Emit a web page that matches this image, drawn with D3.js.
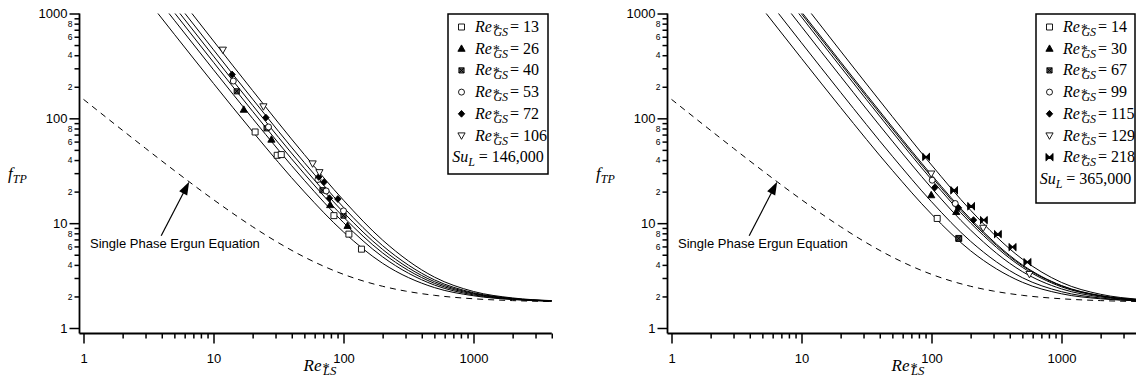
<!DOCTYPE html>
<meta charset="utf-8">
<script src="https://d3js.org/d3.v7.min.js"></script>
<style>
  body { margin: 0; background: #fff; }
  svg text { font-family: "Liberation Sans", Arial, sans-serif; fill: #000; }
  svg text.serif { font-family: "Liberation Serif", "Times New Roman", serif; }
</style>
<div id="my_dataviz"></div>
<script>

  // Re*_LS values where the model curves were read
  var reGrid = [2, 3, 5, 10, 20, 50, 100, 200, 500, 1000, 2000, 4000];

  // single phase Ergun curve (dashed)
  var ergunRe = [1, 2, 3, 5, 10, 20, 30, 50, 100, 200, 300, 500, 1000, 2000, 4000];
  var ergunF = [151.75, 76.75, 51.75, 31.75, 16.75, 9.25, 6.75, 4.75, 3.25, 2.5, 2.25, 2.05, 1.9, 1.825, 1.7875];

  // model curves, f_TP at each reGrid value (left panel, Su_L = 146,000)
  var leftCurves = [
    [2683, 1414, 633.3, 215.2, 74.7, 19.87, 8.24, 4.14, 2.43, 2.03, 1.866, 1.801],
    [3673, 1931, 861.8, 290.6, 99.6, 25.61, 10.13, 4.77, 2.57, 2.07, 1.882, 1.806],
    [4352, 2286, 1018.6, 342.3, 116.6, 29.56, 11.43, 5.20, 2.67, 2.11, 1.893, 1.810],
    [5002, 2626, 1168.7, 391.8, 133.0, 33.33, 12.67, 5.61, 2.77, 2.14, 1.903, 1.813],
    [5777, 3031, 1347.6, 450.8, 152.4, 37.82, 14.15, 6.10, 2.88, 2.17, 1.915, 1.817],
    [7031, 3686, 1637, 546.3, 183.9, 45.10, 16.55, 6.89, 3.06, 2.23, 1.935, 1.824]
  ];

  // model curves (right panel, Su_L = 365,000)
  var rightCurves = [
    [4758, 2498, 1112.3, 373.2, 126.8, 31.91, 12.20, 5.45, 2.73, 2.12, 1.899, 1.812],
    [6754, 3541, 1573, 525.2, 177.0, 43.49, 16.02, 6.71, 3.02, 2.22, 1.931, 1.822],
    [9704, 5083, 2254, 749.8, 251.0, 60.60, 21.66, 8.58, 3.45, 2.36, 1.978, 1.838],
    [12023, 6295, 2789, 926.3, 309.3, 74.06, 26.10, 10.04, 3.79, 2.47, 2.014, 1.850],
    [12887, 6746, 2989, 992.2, 331.0, 79.07, 27.75, 10.58, 3.92, 2.52, 2.028, 1.854],
    [13478, 7055, 3125, 1037.2, 345.8, 82.50, 28.88, 10.96, 4.00, 2.54, 2.037, 1.858],
    [17149, 8974, 3972, 1316.8, 438.1, 103.8, 35.90, 13.27, 4.54, 2.72, 2.096, 1.877]
  ];

  // measured points [Re*_LS, f_TP]
  var leftGS = ["13", "26", "40", "53", "72", "106"];
  var leftSymbols = ["square", "triUp", "xbox", "circle", "diamond", "triDown"];
  var leftPoints = [
    [[20.9, 74.1], [30.9, 44.4], [33.2, 45.1], [84.4, 11.8], [110, 7.86], [137.5, 5.65]],
    [[17.1, 121], [27.9, 62.7], [79.0, 14.9], [107.4, 9.43]],
    [[15.1, 181], [25.6, 80.3], [68.9, 20.6], [100, 11.8]],
    [[14.2, 227], [26.5, 82.7], [63.6, 26.1], [73.6, 20.3], [100, 13.1]],
    [[13.9, 262], [25.3, 101.6], [64.5, 27.6], [70.7, 24.6], [78.0, 17.3], [90.5, 17.0]],
    [[11.8, 451], [24.2, 130], [57.9, 37.1], [65.3, 30.6]]
  ];

  var rightGS = ["14", "30", "67", "99", "115", "129", "218"];
  var rightSymbols = ["square", "triUp", "xbox", "circle", "diamond", "triDown", "bowtie"];
  var rightPoints = [
    [[110.6, 11.09], [162, 7.15]],
    [[99.5, 18.5], [155, 12.8]],
    [[162, 7.15]],
    [[101.3, 25.7], [152.2, 15.4]],
    [[106, 21.9], [161.3, 14.0], [210.4, 10.7]],
    [[99.5, 29.7], [249.8, 9.02], [567, 3.27]],
    [[91.0, 42.8], [149.5, 20.6], [202, 14.5], [252.5, 10.7], [323.6, 7.86], [420, 5.91], [547, 4.25]]
  ];

  var xMajor = [1, 10, 100, 1000];
  var xMinor = [2, 3, 4, 5, 6, 7, 8, 9, 20, 30, 40, 50, 60, 70, 80, 90,
    200, 300, 400, 500, 600, 700, 800, 900, 2000, 3000, 4000];
  var yMajor = [1, 10, 100, 1000];
  var yMinor = [2, 3, 4, 5, 6, 7, 8, 9, 20, 30, 40, 50, 60, 70, 80, 90,
    200, 300, 400, 500, 600, 700, 800, 900];

  var width = 1136, height = 383;

  var svg = d3.select("#my_dataviz")
    .append("svg")
    .attr("width", width)
    .attr("height", height);

  function symbolPath(type) {
    switch (type) {
      case "square": return "M-3,-3H3V3H-3Z";
      case "triUp": return "M0,-3.8L3.6,2.6L-3.6,2.6Z";
      case "triDown": return "M-3.6,-2.6L3.6,-2.6L0,3.8Z";
      case "circle": return "M3,0A3,3 0 1,1 -3,0A3,3 0 1,1 3,0Z";
      case "diamond": return "M0,-3.4L3.2,0L0,3.4L-3.2,0Z";
      case "xbox": return "M-2.6,-2.6H2.6V2.6H-2.6Z";
      case "bowtie": return "M-3.2,-3L0,0L-3.2,3ZM3.2,-3L0,0L3.2,3Z";
    }
  }

  function drawSymbol(g, type, cx, cy) {
    var filled = ["triUp", "diamond", "bowtie"].indexOf(type) >= 0;
    var p = g.append("path")
      .attr("transform", "translate(" + cx + "," + cy + ")")
      .attr("d", symbolPath(type))
      .attr("fill", filled ? "#000" : "#fff")
      .attr("stroke", "#000")
      .attr("stroke-width", type == "bowtie" ? 1.2 : 0.9);
    if (type == "xbox") {
      p.attr("fill", "#555");
      g.append("path")
        .attr("transform", "translate(" + cx + "," + cy + ")")
        .attr("d", "M-2.6,-2.6L2.6,2.6M2.6,-2.6L-2.6,2.6")
        .attr("stroke", "#000").attr("stroke-width", 1);
    }
    if (type == "bowtie") {
      g.append("path")
        .attr("transform", "translate(" + cx + "," + cy + ")")
        .attr("d", "M-3.2,-3.4V3.4M3.2,-3.4V3.4")
        .attr("stroke", "#000").attr("stroke-width", 1.2);
    }
  }

  // Re* with the star stacked over the subscript, all in one text element
  function reLabel(g, x, y, sub, tail, size) {
    var t = g.append("text").attr("class", "serif")
      .attr("x", x).attr("y", y)
      .style("font-size", size + "px");
    t.append("tspan").style("font-style", "italic").text("Re");
    var star = t.append("tspan")
      .attr("dx", 1).attr("dy", size * 0.1)
      .style("font-size", (size * 0.85) + "px")
      .text("*");
    var sw = star.node().getComputedTextLength();
    var s = t.append("tspan")
      .attr("dx", -sw + 0.5).attr("dy", size * 0.15)
      .style("font-size", (size * 0.75) + "px").style("font-style", "italic")
      .text(sub);
    var gw = s.node().getComputedTextLength();
    if (tail) {
      t.append("tspan")
        .attr("dx", Math.max(0, sw - gw) + 2).attr("dy", -size * 0.25)
        .text(tail);
    }
    return t;
  }

  function drawPanel(ox, id, curves, gsVals, symbols, points, suText, boxW, boxH) {
    var axisX = ox + 79.5, axisY = 333.5;
    var x = d3.scaleLog().domain([1, 4000]).range([ox + 83.5, ox + 83.5 + 130 * Math.log10(4000)]);
    var y = d3.scaleLog().domain([1, 1000]).range([328, 13.5]);

    var g = svg.append("g");

    g.append("clipPath").attr("id", "clip" + id)
      .append("rect")
      .attr("x", axisX).attr("y", y(1000))
      .attr("width", x(4000) - axisX).attr("height", axisY - y(1000));

    var line = d3.line()
      .x(function (d) { return x(d[0]); })
      .y(function (d) { return y(d[1]); })
      .curve(d3.curveMonotoneX);

    var plot = g.append("g").attr("clip-path", "url(#clip" + id + ")");

    // dashed single phase Ergun line
    plot.append("path")
      .datum(ergunRe.map(function (r, i) { return [r, ergunF[i]]; }))
      .attr("d", line)
      .attr("fill", "none")
      .attr("stroke", "#000")
      .attr("stroke-width", 1)
      .attr("stroke-dasharray", "6,5");

    plot.selectAll(".curve")
      .data(curves)
      .enter()
      .append("path")
      .attr("class", "curve")
      .attr("d", function (c) { return line(reGrid.map(function (r, i) { return [r, c[i]]; })); })
      .attr("fill", "none")
      .attr("stroke", "#000")
      .attr("stroke-width", 1);

    points.forEach(function (pts, si) {
      pts.forEach(function (p) { drawSymbol(g, symbols[si], x(p[0]), y(p[1])); });
    });

    // axes
    var yAxisMajor = d3.axisLeft(y).tickValues(yMajor).tickSize(10).tickPadding(2)
      .tickFormat(d3.format("d"));
    var yAxisMinor = d3.axisLeft(y).tickValues(yMinor).tickSize(5).tickPadding(2)
      .tickFormat(function (d) {
        var lead = +String(d)[0];
        return lead % 2 == 0 ? String(lead) : "";
      });
    var xAxisMajor = d3.axisBottom(x).tickValues(xMajor).tickSize(10).tickPadding(10)
      .tickFormat(d3.format("d"));
    var xAxisMinor = d3.axisBottom(x).tickValues(xMinor).tickSize(5).tickFormat("");

    var ya = g.append("g").attr("transform", "translate(" + axisX + ",0)");
    ya.append("g").call(yAxisMinor).style("font-size", "8.5px");
    ya.append("g").call(yAxisMajor).style("font-size", "13px");
    var xa = g.append("g").attr("transform", "translate(0," + axisY + ")");
    xa.append("g").call(xAxisMinor);
    xa.append("g").call(xAxisMajor).style("font-size", "13px");
    g.selectAll(".domain").remove();
    g.selectAll(".tick line").attr("stroke", "#000").attr("stroke-width", 1.5);
    g.selectAll(".tick text").attr("fill", "#000").style("font-family", "'Liberation Sans', Arial, sans-serif");

    g.append("line").attr("x1", axisX).attr("x2", axisX)
      .attr("y1", y(1000)).attr("y2", axisY)
      .attr("stroke", "#000").attr("stroke-width", 1.8);
    g.append("line").attr("x1", axisX).attr("x2", x(4000))
      .attr("y1", axisY).attr("y2", axisY)
      .attr("stroke", "#000").attr("stroke-width", 1.8);

    // axis titles
    var ft = g.append("text").attr("class", "serif")
      .attr("x", ox + 8).attr("y", 179)
      .style("font-size", "17px").style("font-style", "italic");
    ft.append("tspan").text("f");
    ft.append("tspan").attr("dy", 4).style("font-size", "12px").text("TP");

    reLabel(g, x(10) + 90, 371, "LS", null, 17);

    // annotation arrow
    var tipRe = 6.5, tipF = 150 / 6.5 + 1.75;
    var tx = x(tipRe), ty = y(tipF);
    var sx = tx - 28, sy = ty + 54;
    var ang = Math.atan2(ty - sy, tx - sx);
    g.append("line").attr("x1", sx).attr("y1", sy)
      .attr("x2", tx - 9 * Math.cos(ang)).attr("y2", ty - 9 * Math.sin(ang))
      .attr("stroke", "#000").attr("stroke-width", 1.2);
    var hl = 13, hw = 4.5;
    var bx = tx - hl * Math.cos(ang), by = ty - hl * Math.sin(ang);
    g.append("path")
      .attr("d", "M" + tx + "," + ty +
        "L" + (bx + hw * Math.sin(ang)) + "," + (by - hw * Math.cos(ang)) +
        "L" + (bx - hw * Math.sin(ang)) + "," + (by + hw * Math.cos(ang)) + "Z")
      .attr("fill", "#000");
    g.append("text")
      .attr("x", ox + 90).attr("y", 248)
      .style("font-size", "13px")
      .text("Single Phase Ergun Equation");

    // legend
    var lx = ox + 448;
    var lg = g.append("g");
    lg.append("rect")
      .attr("x", lx).attr("y", 14)
      .attr("width", boxW).attr("height", boxH)
      .attr("fill", "#fff").attr("stroke", "#000").attr("stroke-width", 1.5);
    gsVals.forEach(function (v, i) {
      var by = 32 + 21.7 * i;
      drawSymbol(lg, symbols[i], lx + 13.5, by - 5);
      reLabel(lg, lx + 27, by, "GS", "= " + v, 16);
    });
    var sy2 = 32 + 21.7 * gsVals.length;
    var su = lg.append("text").attr("class", "serif")
      .attr("x", lx + boxW / 2).attr("y", sy2)
      .attr("text-anchor", "middle")
      .style("font-size", "16px");
    su.append("tspan").style("font-style", "italic").text("Su");
    su.append("tspan").attr("dy", 4).style("font-size", "12px").style("font-style", "italic").text("L");
    su.append("tspan").attr("dy", -4).text(" = " + suText);
  }

  drawPanel(0, "l", leftCurves, leftGS, leftSymbols, leftPoints, "146,000", 100, 160);
  drawPanel(588, "r", rightCurves, rightGS, rightSymbols, rightPoints, "365,000", 99, 189);

</script>
